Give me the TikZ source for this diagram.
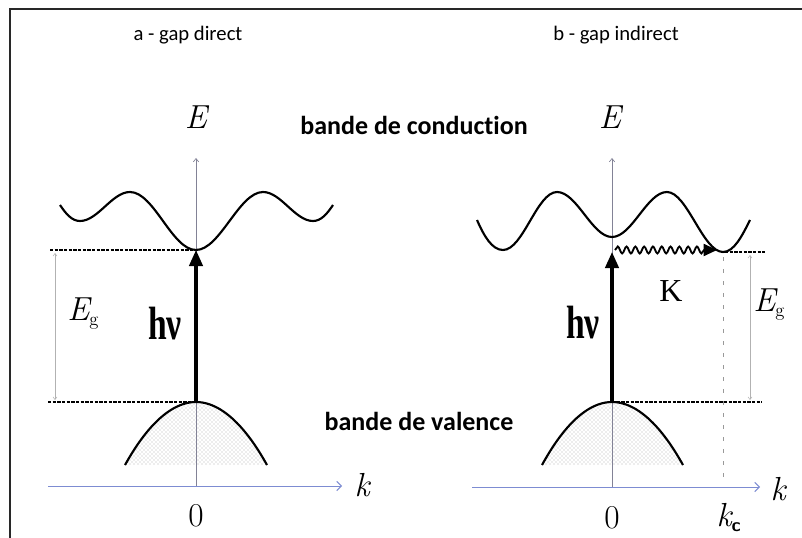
\documentclass[tikz,border=0pt]{standalone}
\usepackage{fontspec}
\newfontfamily\carlito[Ligatures=NoCommon]{Carlito}
\newfontfamily\libserif{Liberation Serif}
\usetikzlibrary{arrows.meta,decorations.pathmorphing,patterns}
\definecolor{axisblue}{RGB}{125,140,210}
\definecolor{axisgray}{RGB}{130,130,150}
\definecolor{framegray}{RGB}{40,40,40}
\tikzset{
  frameline/.style={framegray, line width=1.5pt},
  bandline/.style={black, line width=1.6pt},
  kaxis/.style={axisblue, line width=0.7pt, -{Straight Barb[length=3.5pt,width=7pt]}},
  eaxis/.style={axisgray, line width=0.5pt, -{Straight Barb[length=2.5pt,width=4pt]}},
  gapline/.style={black, line width=0.8pt, dash pattern=on 2.5pt off 1pt},
  dimline/.style={gray!60, line width=0.4pt, {Straight Barb[length=2pt,width=3pt]}-{Straight Barb[length=2pt,width=3pt]}},
  kcline/.style={gray!80, line width=0.6pt, dash pattern=on 3pt off 6pt},
  photon/.style={black, line width=2.4pt, -{Triangle[width=10pt,length=12pt]}},
  phonon/.style={black, line width=1.4pt, decorate,
    decoration={snake, amplitude=2.6pt, segment length=6.6pt, post length=9pt},
    -{Triangle[width=9pt,length=10pt]}},
  vfill/.style={pattern=crosshatch dots, pattern color=gray!60},
  title/.style={font=\carlito\fontsize{15.5}{18}\selectfont, inner sep=0pt},
  bandlabel/.style={font=\carlito\bfseries\fontsize{19.5}{23}\selectfont, inner sep=0pt},
  mlabel/.style={font=\fontsize{25}{30}\selectfont, inner sep=0pt},
  hnu/.style={inner sep=0pt},
  klabel/.style={font=\libserif\fontsize{24}{28}\selectfont, inner sep=0pt}
}
\begin{document}
\begin{tikzpicture}[x=0.75pt,y=-0.75pt]
\useasboundingbox (0,0) rectangle (802,538);
\draw[frameline] (10,538) -- (10,9) -- (802,9);

% ---------- a : gap direct ----------
\coordinate (aO) at (196,486);
\coordinate (aKs) at (48,486);
\coordinate (aKe) at (342,486);
\coordinate (aEt) at (196,158);
\coordinate (aC) at (196,250);
\coordinate (aV) at (196,402);
\coordinate (aL) at (125,465);
\coordinate (aR) at (267,465);

\fill[vfill] (aL) parabola bend (aV) (aR) -- cycle;
\draw[kaxis] (aKs) -- (aKe);
\draw[eaxis] (aO) -- (aEt);
\draw[bandline] (aL) parabola bend (aV) (aR);
\draw[bandline] (60,205) .. controls (66,214) and (72,221) .. (80,221)
  .. controls (98,221) and (112,192) .. (130,192)
  .. controls (154,192) and (172,250) .. (aC)
  .. controls (220,250) and (239,192) .. (263,192)
  .. controls (281,192) and (295,221) .. (313,221)
  .. controls (321,221) and (327,214) .. (333,205);
\coordinate (aG1) at (50,250);
\coordinate (aG2) at (48,402);
\draw[gapline] (aG1) -- (aC);
\draw[gapline] (aG2) -- (aV);
\coordinate (aD1) at (55,253);
\coordinate (aD2) at (55,400);
\draw[dimline] (aD1) -- (aD2);
\draw[photon] (aV) -- (aC);

\node[title] (atitle) at (188,35) {a - gap direct};
\node[mlabel] (aE) at (196,117) {\itshape E};
\node[mlabel, anchor=west] (aEg) at (67,314) {\itshape E\textsubscript{\upshape\fontsize{14}{16}\selectfont g}};
\node[hnu] (ahv) at (165,324) {\scalebox{0.72}[1]{\libserif\bfseries\fontsize{35}{40}\selectfont hν}};
\node[mlabel] (ak) at (362,485) {\itshape k};
\node[mlabel] (a0) at (196,516) {0};

% ---------- middle labels ----------
\node[bandlabel] (bc) at (414,125) {bande de conduction};
\node[bandlabel] (bv) at (419,421) {bande de valence};

% ---------- b : gap indirect ----------
\coordinate (bO) at (612,487);
\coordinate (bKs) at (472,487);
\coordinate (bKe) at (760,487);
\coordinate (bEt) at (612,158);
\coordinate (bC) at (612,252);
\coordinate (bV) at (612,402);
\coordinate (bL) at (542,465);
\coordinate (bR) at (683,465);
\coordinate (bMin) at (723,252);

\fill[vfill] (bL) parabola bend (bV) (bR) -- cycle;
\draw[kaxis] (bKs) -- (bKe);
\draw[eaxis] (bO) -- (bEt);
\draw[bandline] (bL) parabola bend (bV) (bR);
\draw[bandline] (477,220) .. controls (484,236) and (492,250) .. (503,250)
  .. controls (523,250) and (537,192) .. (557,192)
  .. controls (577,192) and (592,237) .. (612,237)
  .. controls (632,237) and (647,192) .. (667,192)
  .. controls (687,192) and (703,252) .. (bMin)
  .. controls (734,252) and (742,236) .. (750,220);
\coordinate (bG1) at (765,252);
\coordinate (bG2) at (762,402);
\coordinate (bMinS) at (725,252);
\draw[gapline] (bMinS) -- (bG1);
\draw[gapline] (bV) -- (bG2);
\coordinate (bD1) at (750,255);
\coordinate (bD2) at (750,400);
\draw[dimline] (bD1) -- (bD2);
\coordinate (bkc1) at (723,257);
\coordinate (bkc2) at (723,482);
\draw[kcline] (bkc1) -- (bkc2);
\draw[photon] (bV) -- (bC);
\coordinate (bW1) at (615,250);
\coordinate (bW2) at (717,250);
\draw[phonon] (bW1) -- (bW2);

\node[title] (btitle) at (616,35) {b - gap indirect};
\node[mlabel] (bE) at (610,117) {\itshape E};
\node[klabel] (bK) at (671,291) {K};
\node[mlabel, anchor=west] (bEg) at (753,305) {\itshape E\textsubscript{\upshape\fontsize{14}{16}\selectfont g}};
\node[hnu] (bhv) at (583,323) {\scalebox{0.72}[1]{\libserif\bfseries\fontsize{35}{40}\selectfont hν}};
\node[mlabel] (bk) at (778,489) {\itshape k};
\node[mlabel] (b0) at (612,518) {0};
\node[mlabel] (bkc) at (729,518) {\itshape k\textsubscript{\upshape\sffamily\bfseries\fontsize{14}{16}\selectfont c}};
\end{tikzpicture}
\end{document}
